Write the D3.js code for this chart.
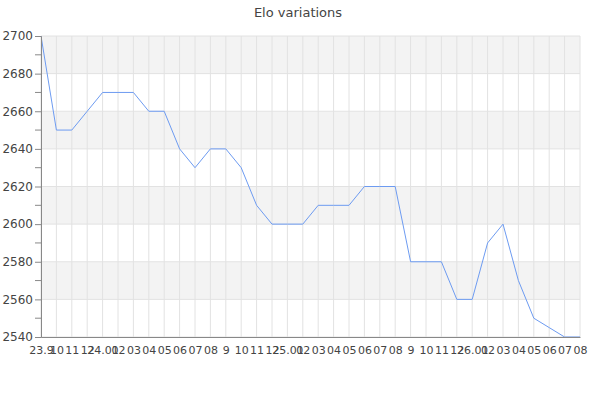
<!DOCTYPE html>
<html>
<head>
<meta charset="utf-8">
<script src="https://cdn.jsdelivr.net/npm/d3@7"></script>
<style>
body{margin:0;background:#fff;font-family:"DejaVu Sans",sans-serif;}
</style>
</head>
<body>
<div id="chart"></div>
<script>
// month labels as printed on the axis
var months = ["23.9","10","11","12","24.01","02","03","04","05","06","07","08","9","10","11","12",
              "25.01","02","03","04","05","06","07","08","9","10","11","12",
              "26.01","02","03","04","05","06","07","08"];
var elo = [2700,2650,2650,2660,2670,2670,2670,2660,2660,2640,2630,2640,2640,2630,2610,2600,
           2600,2600,2610,2610,2610,2620,2620,2620,2580,2580,2580,2560,2560,2590,2600,2570,
           2550,2545,2540,2540];
var yTicks = [2540,2560,2580,2600,2620,2640,2660,2680,2700];
var yMinor = [2550,2570,2590,2610,2630,2650,2670,2690];

var W = 600, H = 400;
var m = {top:36, right:20, bottom:63, left:41};
var w = W - m.left - m.right, h = H - m.top - m.bottom;

var svg = d3.select("#chart").append("svg")
    .attr("width", W).attr("height", H);

svg.append("text")
    .attr("x", W/2 - 2).attr("y", 17)
    .attr("text-anchor", "middle")
    .attr("font-size", 13).attr("fill", "#444")
    .text("Elo variations");

var g = svg.append("g").attr("transform", "translate(" + m.left + "," + m.top + ")");

var x = d3.scaleLinear().domain([0, months.length - 1]).range([0, w]);
var y = d3.scaleLinear().domain([2540, 2700]).range([h, 0]);

// alternating bands
var bands = [];
for (var i = 0; i < yTicks.length - 1; i++) bands.push([yTicks[i], yTicks[i+1]]);
g.selectAll("rect.band").data(bands).enter().append("rect")
    .attr("class", "band")
    .attr("x", 0).attr("width", w)
    .attr("y", function(d){ return y(d[1]); })
    .attr("height", function(d){ return y(d[0]) - y(d[1]); })
    .attr("fill", function(d, i){ return i % 2 == 1 ? "#f3f3f3" : "#fff"; });

// grid
g.selectAll("line.vg").data(months).enter().append("line")
    .attr("x1", function(d, i){ return x(i); }).attr("x2", function(d, i){ return x(i); })
    .attr("y1", 0).attr("y2", h)
    .attr("stroke", "#e2e2e2");
g.selectAll("line.hg").data(yTicks).enter().append("line")
    .attr("x1", 0).attr("x2", w)
    .attr("y1", function(d){ return y(d); }).attr("y2", function(d){ return y(d); })
    .attr("stroke", "#e2e2e2");

// line
var line = d3.line()
    .defined(function(d){ return d != null; })
    .x(function(d, i){ return x(i); })
    .y(function(d){ return y(d); });
g.append("clipPath").attr("id", "clip").append("rect")
    .attr("x", 0).attr("y", -1).attr("width", w + 1).attr("height", h + 1);
g.append("path").datum(elo)
    .attr("clip-path", "url(#clip)")
    .attr("fill", "none")
    .attr("stroke", "#6d9bf1")
    .attr("stroke-width", 1)
    .attr("d", line);

// y axis
var yAxis = d3.axisLeft(y).tickValues(yTicks).tickSize(6).tickPadding(2).tickFormat(d3.format("d"));
var ya = g.append("g").call(yAxis);
ya.select(".domain").attr("stroke", "#888");
ya.selectAll(".tick line").attr("stroke", "#888");
ya.selectAll("text").attr("fill", "#444").attr("font-size", 12).attr("font-family", "DejaVu Sans");
g.selectAll("line.minor").data(yMinor).enter().append("line")
    .attr("x1", -6).attr("x2", 0)
    .attr("y1", function(d){ return y(d); }).attr("y2", function(d){ return y(d); })
    .attr("stroke", "#888");

// x axis
var xAxis = d3.axisBottom(x).tickValues(d3.range(months.length)).tickSize(0).tickPadding(9)
    .tickFormat(function(i){ return months[i]; });
var xa = g.append("g").attr("transform", "translate(0," + h + ")").call(xAxis);
xa.select(".domain").attr("stroke", "#888");
xa.selectAll("text").attr("fill", "#444").attr("font-size", 11).attr("font-family", "DejaVu Sans");
</script>
</body>
</html>
